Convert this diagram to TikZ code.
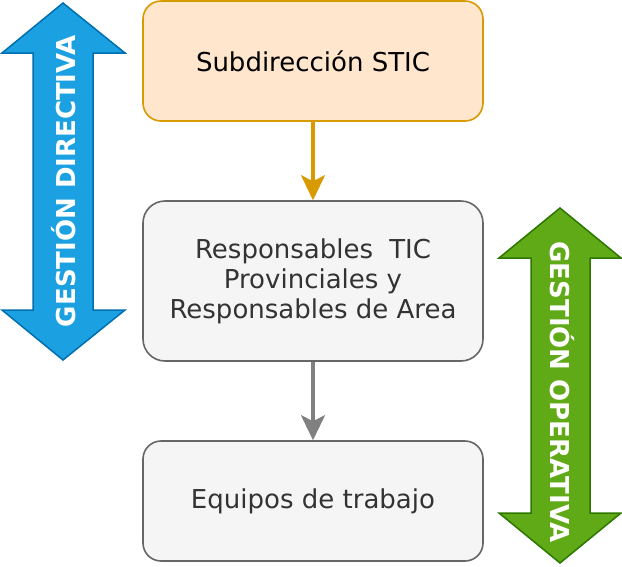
\documentclass[tikz,border=0pt]{standalone}
\usepackage{fontspec}
\setmainfont{DejaVu Sans}
\usetikzlibrary{arrows.meta}
\definecolor{orfill}{HTML}{FFE6CC}
\definecolor{orline}{HTML}{D79B00}
\definecolor{grfill}{HTML}{F5F5F5}
\definecolor{grline}{HTML}{666666}
\definecolor{grtext}{HTML}{333333}
\definecolor{conngray}{HTML}{808080}
\definecolor{blfill}{HTML}{1BA1E2}
\definecolor{blline}{HTML}{006EAF}
\definecolor{gnfill}{HTML}{60A917}
\definecolor{gnline}{HTML}{2D7600}
\tikzset{
  boxbase/.style={draw, line width=1.6pt, minimum width=340pt, align=center,
    inner sep=0pt, font=\fontsize{26}{30}\selectfont},
  orbox/.style={boxbase, fill=orfill, draw=orline, text=black, rounded corners=18pt, minimum height=120pt},
  grbox/.style={boxbase, fill=grfill, draw=grline, text=grtext, rounded corners=18pt, minimum height=120pt},
  conn/.style={line width=3.2pt, -{Stealth[length=25pt,width=24pt,inset=6pt]}},
  bigarrow/.style={line width=1.5pt, line join=miter},
  vlabel/.style={text=white, font=\bfseries\fontsize{26}{30}\selectfont, inner sep=0pt}
}
\begin{document}
\begin{tikzpicture}[x=1pt,y=-1pt]
\useasboundingbox (0,0) rectangle (622,566);
% double arrows
\draw[bigarrow, fill=blfill, draw=blline]
  (63,3) -- (125,53) -- (93,53) -- (93,310) -- (125,310) -- (63,360)
  -- (2,310) -- (33,310) -- (33,53) -- (2,53) -- cycle;
\draw[bigarrow, fill=gnfill, draw=gnline]
  (560,208) -- (621,258) -- (590,258) -- (590,513) -- (621,513) -- (560,563)
  -- (499,513) -- (531,513) -- (531,258) -- (499,258) -- cycle;
\node[vlabel, rotate=90] (gd) at (63.5,181) {GESTIÓN DIRECTIVA};
\node[vlabel, rotate=-90] (go) at (562,392) {GESTIÓN OPERATIVA};
% boxes
\node[orbox] (a) at (313,61) {Subdirección STIC};
\node[grbox, minimum height=160pt, rounded corners=22pt] (b) at (313,281)
  {Responsables\hspace{0.62em}TIC\\Provinciales y\\Responsables de Area};
\node[grbox] (c) at (313,501) {Equipos de trabajo};
% connectors
\draw[conn, draw=orline, fill=orline] (a) -- (b);
\draw[conn, draw=conngray, fill=conngray] (b) -- (c);
\end{tikzpicture}
\end{document}
